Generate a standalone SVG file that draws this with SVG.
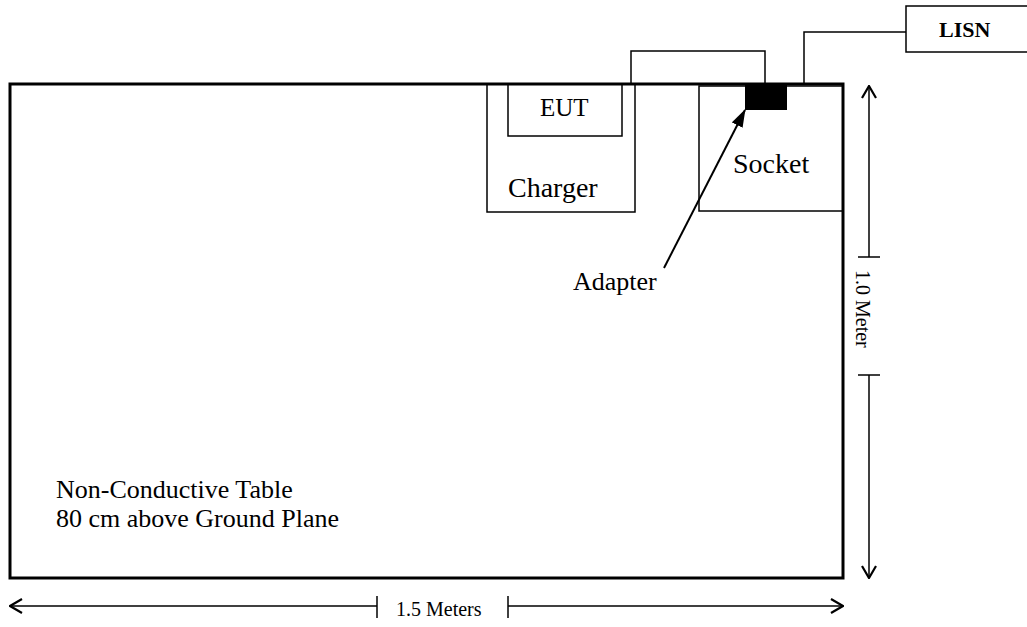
<svg xmlns="http://www.w3.org/2000/svg" width="1027" height="627" viewBox="0 0 1027 627">
<style>
text{font-family:"Liberation Serif","Times New Roman",serif;fill:#000}
.box{fill:none;stroke:#000;stroke-width:1.5}
.ln{fill:none;stroke:#000;stroke-width:1.5}
</style>
<defs>
<marker id="open" viewBox="0 0 14 16" refX="13" refY="8" markerWidth="14" markerHeight="16" markerUnits="userSpaceOnUse" orient="auto">
<path d="M1,1 L13,8 L1,15" fill="none" stroke="#000" stroke-width="2.2"/>
</marker>
<marker id="solid" viewBox="0 0 18 12" refX="17" refY="6" markerWidth="18" markerHeight="12" markerUnits="userSpaceOnUse" orient="auto">
<path d="M0,0 L18,6 L0,12 Z" fill="#000"/>
</marker>
</defs>
<rect width="1027" height="627" fill="#fff"/>
<g id="table">
<rect x="10" y="84" width="833" height="494" fill="none" stroke="#000" stroke-width="3"/>
<text x="56" y="498" font-size="26">Non-Conductive Table</text>
<text x="56" y="527" font-size="26">80 cm above Ground Plane</text>
</g>
<g id="charger">
<rect class="box" x="487" y="84" width="148" height="128"/>
<text x="508" y="197" font-size="28">Charger</text>
</g>
<g id="eut">
<rect class="box" x="508" y="84" width="114" height="52"/>
<text x="540" y="116" font-size="25">EUT</text>
</g>
<g id="socket">
<rect class="box" x="699" y="86" width="144" height="125"/>
<text x="733" y="173" font-size="28">Socket</text>
</g>
<g id="adapter">
<rect x="745" y="83" width="42" height="27" fill="#000"/>
<text x="573" y="290" font-size="26">Adapter</text>
</g>
<g id="lisn">
<rect class="box" x="906" y="6" width="122" height="46"/>
<text x="939" y="37" font-size="22" font-weight="bold">LISN</text>
</g>
<g id="connectors">
<polyline class="ln" points="631,83 631,51 765,51 765,83"/>
<polyline class="ln" points="804,83 804,32 906,32"/>
<line x1="664" y1="268" x2="745" y2="110" stroke="#000" stroke-width="2" marker-end="url(#solid)"/>
<line class="ln" x1="869" y1="257" x2="869" y2="86" marker-end="url(#open)"/>
<line class="ln" x1="858" y1="257" x2="880" y2="257"/>
<line class="ln" x1="869" y1="375" x2="869" y2="578" marker-end="url(#open)"/>
<line class="ln" x1="858" y1="375" x2="880" y2="375"/>
<text x="0" y="0" font-size="20" transform="translate(856,270) rotate(90)">1.0 Meter</text>
<line class="ln" x1="377" y1="606" x2="10" y2="606" marker-end="url(#open)"/>
<line class="ln" x1="377" y1="596" x2="377" y2="618"/>
<line class="ln" x1="508" y1="606" x2="843" y2="606" marker-end="url(#open)"/>
<line class="ln" x1="508" y1="596" x2="508" y2="618"/>
<text x="396" y="616" font-size="20">1.5 Meters</text>
</g>
</svg>
